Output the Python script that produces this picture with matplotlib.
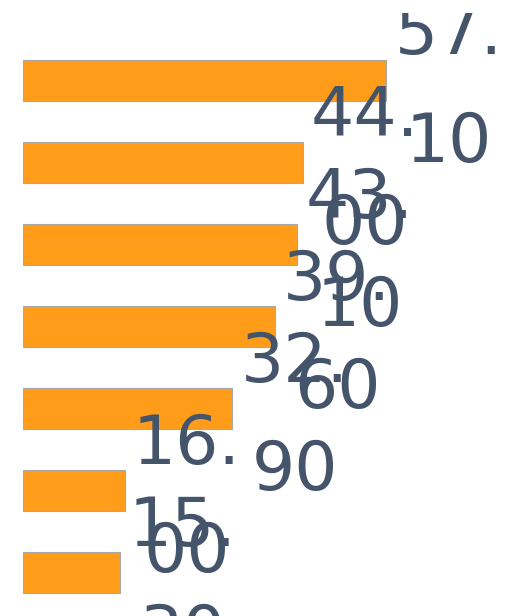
import matplotlib
matplotlib.use("Agg")
import matplotlib.pyplot as plt
from matplotlib.transforms import Bbox, TransformedBbox

categories = ["A", "B", "C", "D", "E", "F", "G"]
values = [57.10, 44.00, 43.10, 39.60, 32.90, 16.00, 15.30]

bar_color = "#FF9D1B"
text_color = "#44546A"

fig = plt.figure(figsize=(5.05, 6.16), dpi=100)
ax = fig.add_axes([23 / 505, 0, 482 / 505, 1])

y = range(len(categories))
ax.barh(y, values, height=0.5, color=bar_color, edgecolor="#A8A8A8", linewidth=0.8)

# labels get clipped a little below the top edge, like the original
clip = TransformedBbox(Bbox([[0, 0], [1, 603 / 616]]), fig.transFigure)

for i, v in enumerate(values):
    label = f"{v:.2f}".replace(".", ".\n")
    t = ax.annotate(label, xy=(v, i), xytext=(6, -6), textcoords="offset points",
                    ha="left", va="center", multialignment="center",
                    fontsize=49, color=text_color, linespacing=1.8,
                    annotation_clip=False)
    t.set_clip_box(clip)
    t.set_clip_on(True)

ax.set_xlim(0, 482 / 6.357)
ax.set_ylim(6.53, -0.98)
ax.axis("off")

fig.savefig("out.png", dpi=100)
